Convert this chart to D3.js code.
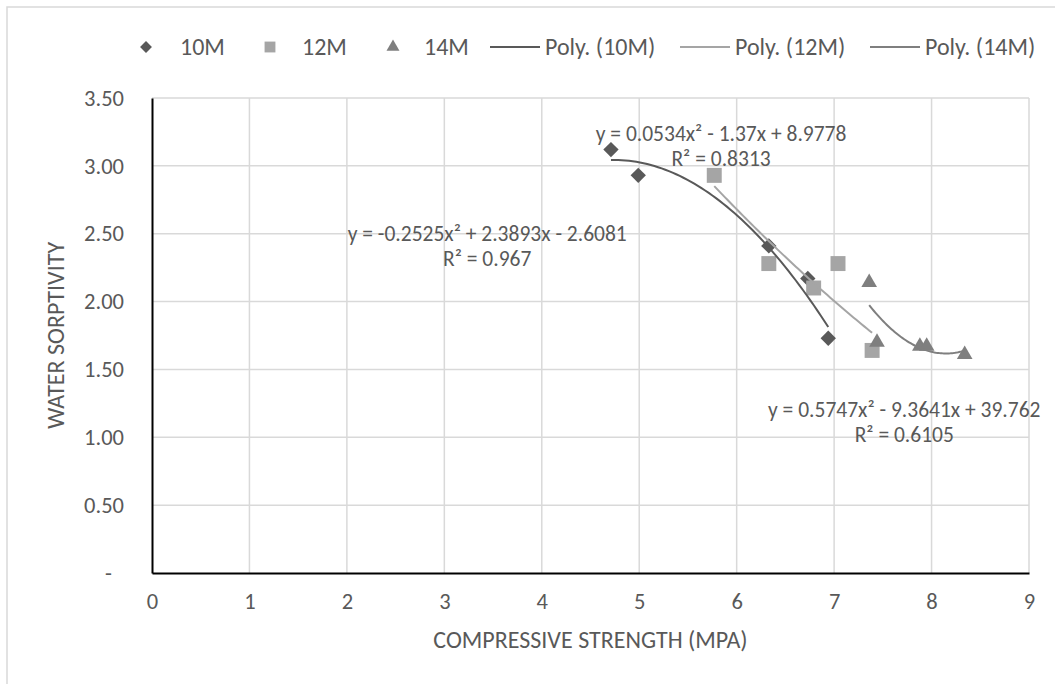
<!DOCTYPE html>
<html>
<head>
<meta charset="utf-8">
<script src="https://cdn.jsdelivr.net/npm/d3@7"></script>
<style>
  body { margin: 0; background: #fff; }
  text { font-family: Carlito, Calibri, Lato, sans-serif; fill: #595959; }
</style>
</head>
<body>
<div id="chart"></div>
<script>
// series values
var series = ["10M", "12M", "14M"];
var x10 = [4.71, 4.99, 6.33, 6.73, 6.94];
var y10 = [3.12, 2.93, 2.41, 2.17, 1.73];
var x12 = [5.77, 6.33, 6.79, 7.04, 7.39];
var y12 = [2.93, 2.28, 2.10, 2.28, 1.64];
var x14 = [7.36, 7.44, 7.88, 7.95, 8.34];
var y14 = [2.14, 1.70, 1.67, 1.67, 1.61];

// polynomial trendline coefficients (a x^2 + b x + c), as printed
var coef10 = [-0.2525, 2.3893, -2.6081];
var coef12 = [0.0534, -1.37, 8.9778];
var coef14 = [0.5747, -9.3641, 39.762];
var eq10 = ["y = -0.2525x² + 2.3893x - 2.6081", "R² = 0.967"];
var eq12 = ["y = 0.0534x² - 1.37x + 8.9778", "R² = 0.8313"];
var eq14 = ["y = 0.5747x² - 9.3641x + 39.762", "R² = 0.6105"];

var xTicks = [0, 1, 2, 3, 4, 5, 6, 7, 8, 9];
var yTicks = [0, 0.5, 1, 1.5, 2, 2.5, 3, 3.5];

var W = 1055, H = 684;
var svg = d3.select("#chart").append("svg")
  .attr("width", W).attr("height", H);

// chart frame
svg.append("rect")
  .attr("x", 7).attr("y", 7)
  .attr("width", 1100).attr("height", 700)
  .attr("fill", "none").attr("stroke", "#d9d9d9").attr("stroke-width", 1.5);

var x = d3.scaleLinear().domain([0, 9]).range([152, 1029]);
var y = d3.scaleLinear().domain([0, 3.5]).range([573, 98]);

var grid = "#d9d9d9";

// gridlines
svg.append("g").selectAll("line.h")
  .data(yTicks.slice(1))
  .enter().append("line")
  .attr("x1", x(0)).attr("x2", x(9))
  .attr("y1", function (d) { return y(d); })
  .attr("y2", function (d) { return y(d); })
  .attr("stroke", grid).attr("stroke-width", 1.5);

svg.append("g").selectAll("line.v")
  .data(xTicks.slice(1))
  .enter().append("line")
  .attr("x1", function (d) { return x(d); })
  .attr("x2", function (d) { return x(d); })
  .attr("y1", y(0)).attr("y2", y(3.5))
  .attr("stroke", grid).attr("stroke-width", 1.5);

// axes
var xAxis = d3.axisBottom(x).tickValues(xTicks).tickSize(0).tickPadding(20)
  .tickFormat(d3.format("d"));
var yAxis = d3.axisLeft(y).tickValues(yTicks).tickSize(0).tickPadding(28)
  .tickFormat(function (d) { return d === 0 ? "-" : d3.format(".2f")(d); });

var gx = svg.append("g").attr("transform", "translate(0," + y(0) + ")").call(xAxis);
var gy = svg.append("g").attr("transform", "translate(" + x(0) + ",0)").call(yAxis);
[gx, gy].forEach(function (g) {
  g.select(".domain").attr("stroke", "#000").attr("stroke-width", 2);
  g.selectAll("text").attr("font-size", 22.5).attr("fill", "#595959")
    .style("font-family", "Carlito, Calibri, Lato, sans-serif");
});
gy.selectAll("text").filter(function (d) { return d === 0; }).attr("dx", -12);

// axis titles
svg.append("text")
  .attr("x", (x(0) + x(9)) / 2).attr("y", 648)
  .attr("text-anchor", "middle").attr("font-size", 24)
  .text("COMPRESSIVE STRENGTH (MPA)");
svg.append("text")
  .attr("transform", "translate(64," + ((y(0) + y(3.5)) / 2) + ") rotate(-90)")
  .attr("text-anchor", "middle").attr("font-size", 24)
  .text("WATER SORPTIVITY");

var colors = { "10M": "#595959", "12M": "#a5a5a5", "14M": "#7f7f7f" };
var shapes = { "10M": d3.symbolDiamond2, "12M": d3.symbolSquare2, "14M": d3.symbolTriangle2 };

function poly(c) { return function (v) { return c[0] * v * v + c[1] * v + c[2]; }; }

var line = d3.line()
  .x(function (d) { return x(d[0]); })
  .y(function (d) { return y(d[1]); });

function trend(xs, c) {
  var f = poly(c), lo = d3.min(xs), hi = d3.max(xs), pts = [];
  for (var i = 0; i <= 60; i++) {
    var v = lo + (hi - lo) * i / 60;
    pts.push([v, f(v)]);
  }
  return pts;
}

var sets = [
  { name: "10M", xs: x10, ys: y10, c: coef10, eq: eq10, at: [3.44, 2.45] },
  { name: "12M", xs: x12, ys: y12, c: coef12, eq: eq12, at: [5.84, 3.18] },
  { name: "14M", xs: x14, ys: y14, c: coef14, eq: eq14, at: [7.72, 1.15] }
];

// markers
sets.forEach(function (s) {
  svg.append("g").selectAll("path")
    .data(d3.zip(s.xs, s.ys))
    .enter().append("path")
    .attr("transform", function (d) { return "translate(" + x(d[0]) + "," + y(d[1]) + ")"; })
    .attr("d", d3.symbol().type(shapes[s.name]).size(s.name === "10M" ? 150 : s.name === "12M" ? 285 : 175))
    .attr("fill", colors[s.name]);
});

// trendlines
sets.forEach(function (s) {
  svg.append("path")
    .attr("d", line(trend(s.xs, s.c)))
    .attr("fill", "none")
    .attr("stroke", colors[s.name])
    .attr("stroke-width", 2);
});

// trendline labels
sets.forEach(function (s) {
  var t = svg.append("text")
    .attr("x", x(s.at[0])).attr("y", y(s.at[1]))
    .attr("text-anchor", "middle").attr("font-size", 21.5);
  t.append("tspan").attr("x", x(s.at[0])).attr("dy", 0).text(s.eq[0]);
  t.append("tspan").attr("x", x(s.at[0])).attr("dy", 25).text(s.eq[1]);
});

// legend
var ly = 47;
var lg = svg.append("g");
var symX = [146, 270, 393];
var symTx = [180, 302, 424];
series.forEach(function (n, i) {
  lg.append("path")
    .attr("transform", "translate(" + symX[i] + "," + ly + ")")
    .attr("d", d3.symbol().type(shapes[n]).size(n === "10M" ? 90 : n === "12M" ? 150 : 120))
    .attr("fill", colors[n]);
  lg.append("text").attr("x", symTx[i]).attr("y", ly).attr("dy", "0.35em")
    .attr("font-size", 24).text(n);
});
var lnX = [490, 680, 870];
series.forEach(function (n, i) {
  lg.append("line")
    .attr("x1", lnX[i]).attr("x2", lnX[i] + 50)
    .attr("y1", ly).attr("y2", ly)
    .attr("stroke", colors[n]).attr("stroke-width", 2);
  lg.append("text").attr("x", lnX[i] + 55).attr("y", ly).attr("dy", "0.35em")
    .attr("font-size", 24).text("Poly. (" + n + ")");
});
</script>
</body>
</html>
